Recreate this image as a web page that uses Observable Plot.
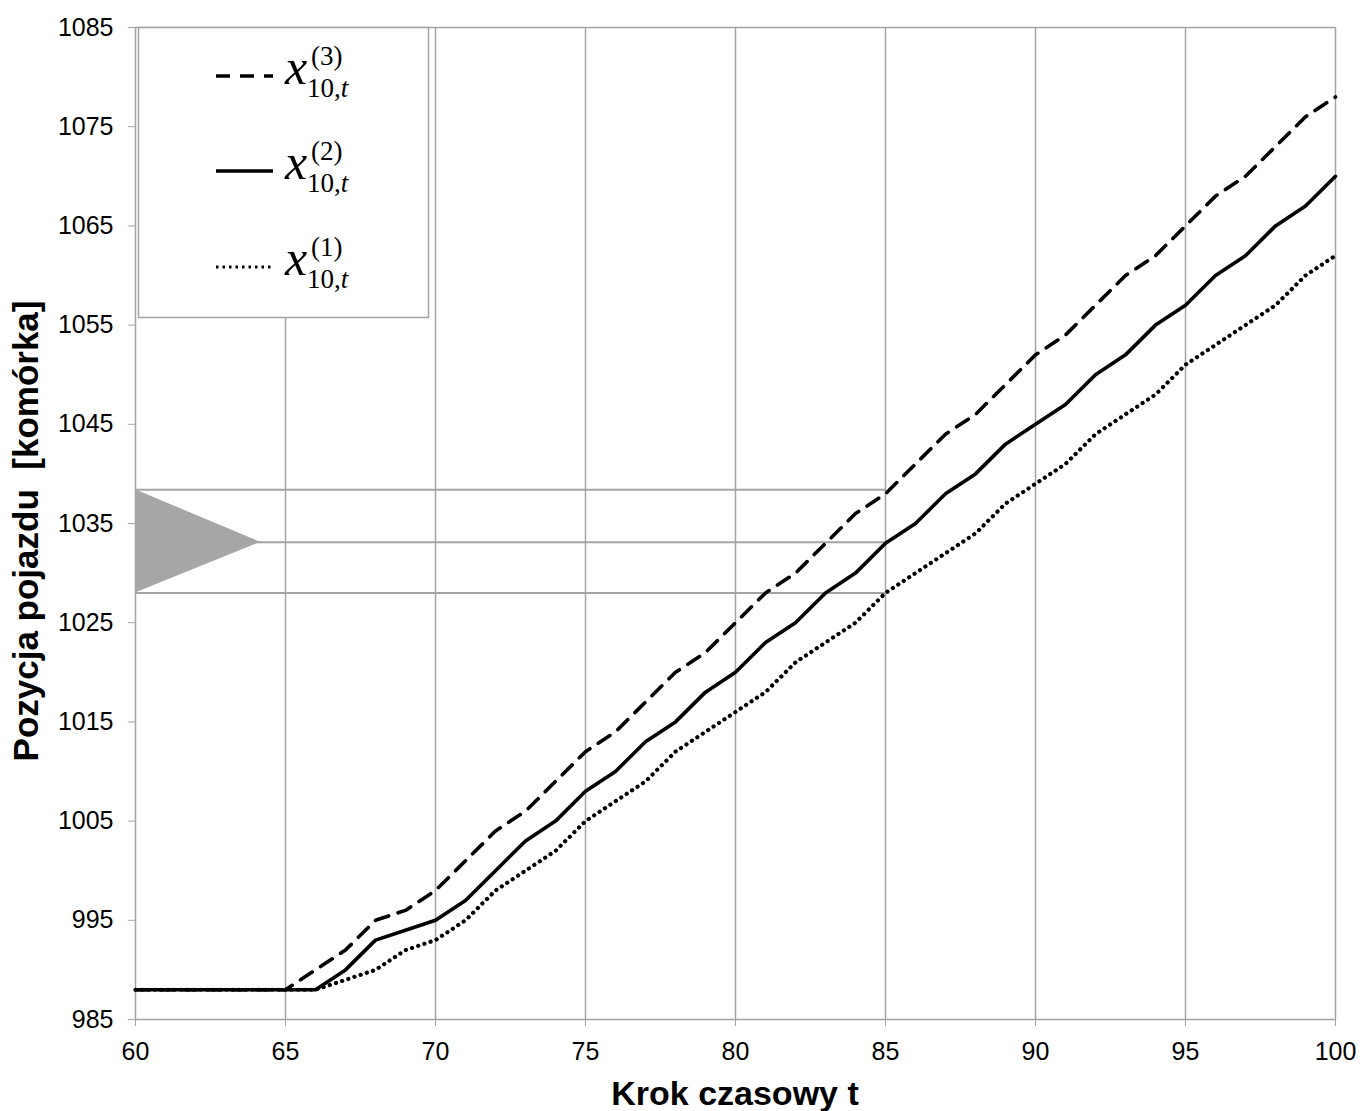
<!DOCTYPE html>
<html>
<head>
<meta charset="utf-8">
<script src="https://cdn.jsdelivr.net/npm/d3@7"></script>
<script src="https://cdn.jsdelivr.net/npm/@observablehq/plot@0.6"></script>
<style>
  html, body { margin: 0; padding: 0; background: #fff; }
  #chart { position: relative; width: 1360px; height: 1111px; }
</style>
</head>
<body>
<div id="chart"></div>
<script>
// ---- data ----
const steps = d3.range(60, 101);
const x1Series = [988,988,988,988,988,988,988,989,990,992,993,995,998,1000,1002,1005,1007,1009,1012,1014,1016,1018,1021,1023,1025,1028,1030,1032,1034,1037,1039,1041,1044,1046,1048,1051,1053,1055,1057,1060,1062];
const x2Series = [988,988,988,988,988,988,988,990,993,994,995,997,1000,1003,1005,1008,1010,1013,1015,1018,1020,1023,1025,1028,1030,1033,1035,1038,1040,1043,1045,1047,1050,1052,1055,1057,1060,1062,1065,1067,1070];
const x3Series = [988,988,988,988,988,988,990,992,995,996,998,1001,1004,1006,1009,1012,1014,1017,1020,1022,1025,1028,1030,1033,1036,1038,1041,1044,1046,1049,1052,1054,1057,1060,1062,1065,1068,1070,1073,1076,1078];
const xTicks = [60,65,70,75,80,85,90,95,100];
const yTicks = [985,995,1005,1015,1025,1035,1045,1055,1065,1075,1085];
const bandLevels = [1038.4, 1033.1, 1028];
const bandEndT = 85;
const triangleX = [60, 64.17];
const triangleLo = [1028, 1033.1];
const triangleHi = [1038.4, 1033.1];
const xLabel = "Krok czasowy t";
const yLabel = "Pozycja pojazdu\u00a0\u00a0[komórka]";
const legendSup = ["(3)", "(2)", "(1)"];

// ---- build tables ----
const mk = (arr) => steps.map((t, i) => ({t, v: arr[i]}));
const s1 = mk(x1Series), s2 = mk(x2Series), s3 = mk(x3Series);
const tri = triangleX.map((x, i) => ({x, lo: triangleLo[i], hi: triangleHi[i]}));

const grey = "#a3a3a3";
const plot = Plot.plot({
  width: 1360,
  height: 1111,
  marginLeft: 135,
  marginRight: 25,
  marginTop: 27,
  marginBottom: 92,
  style: {fontFamily: "'Liberation Sans', Arial, sans-serif", fontSize: "25px", color: "#000", background: "#fff"},
  x: {domain: [60, 100]},
  y: {domain: [985, 1085]},
  marks: [
    Plot.ruleX(xTicks, {stroke: grey, strokeWidth: 1.5}),
    Plot.ruleY([985, 1085], {stroke: grey, strokeWidth: 1.5}),
    Plot.ruleY(bandLevels, {x1: 60, x2: bandEndT, stroke: grey, strokeWidth: 2}),
    Plot.areaY(tri, {x: "x", y1: "lo", y2: "hi", fill: "#a6a6a6"}),
    Plot.line(s1, {x: "t", y: "v", stroke: "#000", strokeWidth: 4.2, strokeDasharray: "0.1 6.4", strokeLinecap: "round"}),
    Plot.line(s3, {x: "t", y: "v", stroke: "#000", strokeWidth: 3.6, strokeDasharray: "14 10"}),
    Plot.line(s2, {x: "t", y: "v", stroke: "#000", strokeWidth: 3.6, strokeLinejoin: "round"}),
    Plot.axisX(xTicks, {tickSize: 7, tickPadding: 16, stroke: grey, label: null, fontSize: 25, tickFormat: d => String(d)}),
    Plot.axisY(yTicks, {tickSize: 7, tickPadding: 15, stroke: grey, label: null, fontSize: 25, tickFormat: d => String(d)})
  ]
});
document.getElementById("chart").appendChild(plot);

// ---- titles & legend (SVG overlay) ----
const svg = d3.select(plot);
svg.append("text")
  .attr("x", 735).attr("y", 1105)
  .attr("text-anchor", "middle")
  .attr("font-family", "'Liberation Sans', Arial, sans-serif")
  .attr("font-weight", "bold").attr("font-size", 34)
  .text(xLabel);
svg.append("text")
  .attr("transform", "translate(38,531) rotate(-90)")
  .attr("text-anchor", "middle")
  .attr("font-family", "'Liberation Sans', Arial, sans-serif")
  .attr("font-weight", "bold").attr("font-size", 35)
  .text(yLabel);

const lg = svg.append("g").attr("text-anchor", "start");
lg.append("rect").attr("x", 138.5).attr("y", 27.5).attr("width", 290).attr("height", 290)
  .attr("fill", "#fff").attr("stroke", grey).attr("stroke-width", 1.5);
const rowY = [76, 171, 267];
const dashes = ["14 10", null, "2.5 4"];
const serif = "'Liberation Serif', 'Times New Roman', serif";
rowY.forEach((yy, i) => {
  const ln = lg.append("line").attr("x1", 216).attr("x2", 273).attr("y1", yy).attr("y2", yy)
    .attr("stroke", "#000").attr("stroke-width", i === 2 ? 3 : 3.5);
  if (dashes[i]) ln.attr("stroke-dasharray", dashes[i]);
  lg.append("text").attr("x", 285).attr("y", yy + 8).attr("text-anchor", "start")
    .attr("font-family", serif).attr("font-style", "italic").attr("font-size", 50).text("x");
  lg.append("text").attr("x", 311).attr("y", yy - 11).attr("text-anchor", "start")
    .attr("font-family", serif).attr("font-size", 27)
    .text(legendSup[i]);
  const sub = lg.append("text").attr("x", 307).attr("y", yy + 21).attr("text-anchor", "start")
    .attr("font-family", serif).attr("font-size", 27);
  sub.append("tspan").text("10,");
  sub.append("tspan").attr("font-style", "italic").text("t");
});
</script>
</body>
</html>
